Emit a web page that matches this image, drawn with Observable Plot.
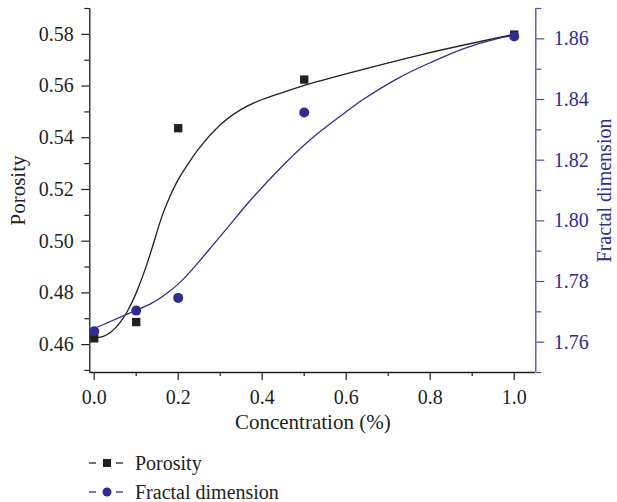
<!DOCTYPE html>
<html>
<head>
<meta charset="utf-8">
<script src="https://cdn.jsdelivr.net/npm/d3@7"></script>
<script src="https://cdn.jsdelivr.net/npm/@observablehq/plot@0.6"></script>
<style>
  html, body { margin: 0; padding: 0; background: #fff; }
  #wrap { position: relative; width: 617px; height: 502px; font-family: "Liberation Serif", "Times New Roman", "DejaVu Serif", serif; }
  .leg { position: absolute; left: 89px; height: 24px; display: flex; align-items: center; font-size: 20px; color: #231f20; }
  .leg svg { margin-right: 10px; }
</style>
</head>
<body>
<div id="wrap"></div>
<script>
// ---- data ----
const concentration = [0, 0.1, 0.2, 0.5, 1.0];
const porosity = [0.4624, 0.4687, 0.5437, 0.5625, 0.5799];
const fractal = [1.7636, 1.7704, 1.7746, 1.8357, 1.8608];

// fitted curves
const porFitX = [0, 0.02, 0.04, 0.06, 0.08, 0.10, 0.12, 0.14, 0.16, 0.18, 0.20, 0.22, 0.25, 0.30, 0.35, 0.40, 0.45, 0.50, 0.566, 0.78, 1.0];
const porFitY = [0.4627, 0.4631, 0.4649, 0.4682, 0.4732, 0.4800, 0.4885, 0.4985, 0.5090, 0.5172, 0.5238, 0.5290, 0.5360, 0.5450, 0.5510, 0.5548, 0.5576, 0.5603, 0.5633, 0.5722, 0.5800];
const fracFitX = [0, 0.098, 0.134, 0.166, 0.205, 0.245, 0.285, 0.325, 0.372, 0.451, 0.532, 0.610, 0.641, 0.722, 0.801, 0.880, 0.960, 1.0];
const fracFitY = [1.7645, 1.7704, 1.7726, 1.7754, 1.7798, 1.7858, 1.7924, 1.7990, 1.8068, 1.8185, 1.8288, 1.8370, 1.8401, 1.8469, 1.8522, 1.8568, 1.8601, 1.8611];

// ticks
const xMajor = [0, 0.2, 0.4, 0.6, 0.8, 1.0];
const xMinor = [0.1, 0.3, 0.5, 0.7, 0.9];
const porMajor = [0.46, 0.48, 0.50, 0.52, 0.54, 0.56, 0.58];
const porMinor = [0.45, 0.47, 0.49, 0.51, 0.53, 0.55, 0.57, 0.59];
const fracMajor = [1.76, 1.78, 1.80, 1.82, 1.84, 1.86];
const fracMinor = [1.75, 1.77, 1.79, 1.81, 1.83, 1.85, 1.87];

// domains
const xDomain = [-0.0105, 1.0514];
const porDomain = [0.4492, 0.5900];
const fracDomain = [1.75, 1.87];

const BLACK = "#231f20";
const BLUE = "#332c8f";
const BLUE_AXIS = "#4f47a0";

const toPor = f => porDomain[0] + (f - fracDomain[0]) / (fracDomain[1] - fracDomain[0]) * (porDomain[1] - porDomain[0]);
const fromPor = p => fracDomain[0] + (p - porDomain[0]) / (porDomain[1] - porDomain[0]) * (fracDomain[1] - fracDomain[0]);

const pts = concentration.map((c, i) => ({c, p: porosity[i], f: toPor(fractal[i])}));
const porFit = porFitX.map((x, i) => ({x, y: porFitY[i]}));
const fracFit = fracFitX.map((x, i) => ({x, y: toPor(fracFitY[i])}));

const chart = Plot.plot({
  width: 617,
  height: 440,
  marginLeft: 89.3,
  marginRight: 81.7,
  marginTop: 8,
  marginBottom: 68,
  x: {domain: xDomain},
  y: {domain: porDomain},
  style: {fontFamily: "'Liberation Serif', 'Times New Roman', 'DejaVu Serif', serif", fontSize: "20px", color: BLACK, background: "white", overflow: "visible"},
  marks: [
    Plot.axisX({ticks: xMajor, tickSize: 8, tickPadding: 9, tickFormat: d => d.toFixed(1), label: null, stroke: BLACK, strokeWidth: 1.2}),
    Plot.axisX({ticks: xMinor, tickSize: 4, tickFormat: () => "", label: null, stroke: BLACK, strokeWidth: 1.2}),
    Plot.axisY({ticks: porMajor, anchor: "left", tickSize: 8, tickPadding: 8, tickFormat: d => d.toFixed(2), label: null, stroke: BLACK, strokeWidth: 1.2}),
    Plot.axisY({ticks: porMinor, anchor: "left", tickSize: 5, tickFormat: () => "", label: null, stroke: BLACK, strokeWidth: 1.2}),
    Plot.axisY({ticks: fracMajor.map(toPor), anchor: "right", tickSize: 8, tickPadding: 10, tickFormat: d => fromPor(d).toFixed(2), label: null, color: BLUE, stroke: BLUE_AXIS, strokeWidth: 1.2}),
    Plot.axisY({ticks: fracMinor.map(toPor), anchor: "right", tickSize: 5, tickFormat: () => "", label: null, stroke: BLUE_AXIS, strokeWidth: 1.2}),
    Plot.ruleY([porDomain[0]], {stroke: BLACK, strokeWidth: 1.3}),
    Plot.ruleX([xDomain[0]], {stroke: BLACK, strokeWidth: 1.3}),
    Plot.ruleX([xDomain[1]], {stroke: BLUE_AXIS, strokeWidth: 1.3}),
    Plot.line(porFit, {x: "x", y: "y", stroke: BLACK, strokeWidth: 1.3, curve: "natural"}),
    Plot.line(fracFit, {x: "x", y: "y", stroke: BLUE, strokeWidth: 1.3, curve: "natural"}),
    Plot.dot(pts, {x: "c", y: "p", symbol: "square", r: 4.7, fill: BLACK, stroke: "none"}),
    Plot.dot(pts, {x: "c", y: "f", symbol: "circle", r: 5, fill: BLUE, stroke: "none"}),
    Plot.text(["Porosity"], {frameAnchor: "left", dx: -72, rotate: -90, textAnchor: "middle", lineAnchor: "middle", fill: BLACK, fontSize: 21}),
    Plot.text(["Fractal dimension"], {frameAnchor: "right", dx: 69, rotate: -90, textAnchor: "middle", lineAnchor: "middle", fill: BLUE, fontSize: 20}),
    Plot.text(["Concentration (%)"], {frameAnchor: "bottom", dy: 50, textAnchor: "middle", lineAnchor: "middle", fill: BLACK, fontSize: 21})
  ]
});

const wrap = document.getElementById("wrap");
wrap.appendChild(chart);

const legendItems = [
  {label: "Porosity", color: BLACK, sym: "square", top: 451},
  {label: "Fractal dimension", color: BLUE, sym: "circle", top: 480}
];
for (const it of legendItems) {
  const div = document.createElement("div");
  div.className = "leg";
  div.style.top = it.top + "px";
  const marker = it.sym === "square"
    ? `<rect x="14" y="3" width="8" height="8" fill="${it.color}"/>`
    : `<circle cx="18" cy="7" r="4.5" fill="${it.color}"/>`;
  div.innerHTML = `<svg width="36" height="14" viewBox="0 0 36 14">
      <line x1="0" x2="7" y1="7" y2="7" stroke="${it.color}" stroke-width="1.3"/>
      <line x1="27" x2="34" y1="7" y2="7" stroke="${it.color}" stroke-width="1.3"/>
      ${marker}
    </svg><span>${it.label}</span>`;
  wrap.appendChild(div);
}
</script>
</body>
</html>
